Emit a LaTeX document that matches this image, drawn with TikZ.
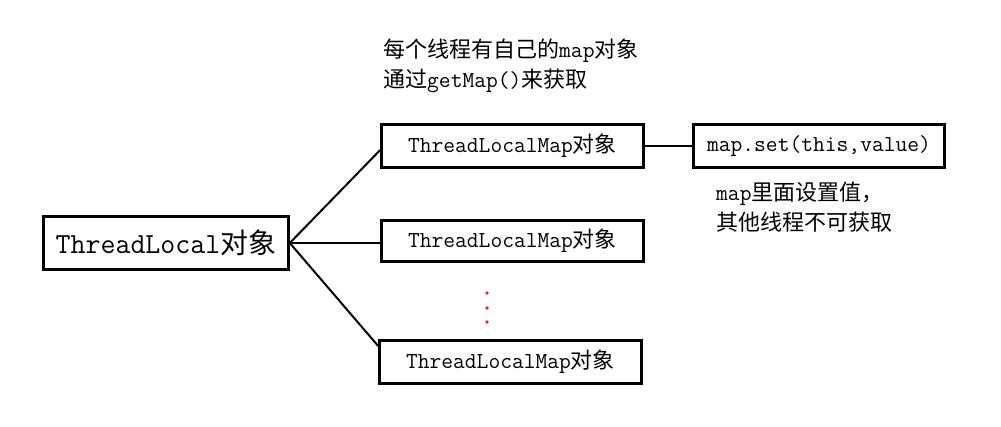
\documentclass[tikz,border=0pt]{standalone}
\usepackage{fontspec}
\setmonofont{Latin Modern Mono}[Scale=1.04]
\newfontfamily\cjk{Noto Sans CJK SC}
\newcommand{\zh}[1]{{\cjk #1}}
\definecolor{dotred}{RGB}{232,32,72}

\begin{document}
\begin{tikzpicture}[x=1pt, y=-1pt,
    objbox/.style={draw, line width=2.6pt, inner sep=0pt, minimum width=262pt, minimum height=43pt, font=\fontsize{22}{26}\selectfont\ttfamily},
    link/.style={line width=2pt},
    note/.style={align=left, inner sep=0pt, anchor=north west, font=\fontsize{22}{30}\selectfont\ttfamily},
    reddot/.style={circle, fill=dotred, inner sep=0pt, minimum size=3.6pt}]
  \useasboundingbox (0,0) rectangle (1001,426);

  % left object
  \node[objbox, minimum width=245pt, minimum height=53pt, font=\fontsize{28}{32}\selectfont\ttfamily] (tl) at (166,243) {ThreadLocal\zh{对象}};

  % one map per thread
  \node[objbox] (m1) at (512.5,146) {ThreadLocalMap\zh{对象}};
  \node[objbox, minimum height=41pt] (m2) at (512.5,241) {ThreadLocalMap\zh{对象}};
  \node[objbox] (m3) at (510.5,362) {ThreadLocalMap\zh{对象}};
  \node[objbox, minimum width=251pt] (set) at (819,146) {map.set(this,value)};

  \node[reddot] (d1) at (487,293) {};
  \node[reddot] (d2) at (487,308) {};
  \node[reddot] (d3) at (487,322) {};

  % notes
  \node[note] (top) at (383,39) {\zh{每个线程有自己的}map\zh{对象}\\\zh{通过}getMap()\zh{来获取}};
  \node[note] (side) at (716,182) {map\zh{里面设置值，}\\\zh{其他线程不可获取}};

  \draw[link] (tl.east) -- ([yshift=-4pt]m1.west);
  \draw[link] (tl.east) -- (tl.east -| m2.west);
  \draw[link] (tl.east) -- ([yshift=16pt]m3.west);
  \draw[link] (m1.east) -- (set.west);
\end{tikzpicture}
\end{document}
